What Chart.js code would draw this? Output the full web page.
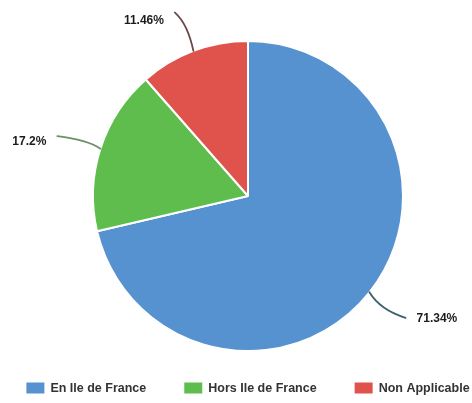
<!DOCTYPE html>
<html><head><meta charset="utf-8">
<script src="https://cdn.jsdelivr.net/npm/chart.js@4.4.0/dist/chart.umd.min.js"></script>
<style>html,body{margin:0;padding:0;background:#fff;} canvas{display:block}</style>
</head><body>
<canvas id="c" width="472" height="403"></canvas>
<script>
const categories = ['En Ile de France', 'Hors Ile de France', 'Non Applicable'];
const shares = [71.34, 17.2, 11.46];
const valueLabels = ['71.34%', '17.2%', '11.46%'];
const sliceColors = ['#5592cf', '#5fbd4d', '#e0534d'];
const leaderColors = ['#3d5f6e', '#6f8f6a', '#6a4646'];

const FONT = '"Liberation Sans", Arial, sans-serif';

const leaderPlugin = {
  id: 'leaders',
  afterDatasetsDraw(chart) {
    const ctx = chart.ctx;
    const meta = chart.getDatasetMeta(0);
    meta.data.forEach((arc, i) => {
      const p = arc.getProps(['x','y','startAngle','endAngle','outerRadius'], true);
      const a = (p.startAngle + p.endAngle) / 2;
      const c = Math.cos(a), s = Math.sin(a);
      const ex = p.x + c * p.outerRadius, ey = p.y + s * p.outerRadius;
      const L = 41;
      const side = c < 0 ? -1 : 1;
      const tx = ex + c * L + side * 4, ty = ey + s * L;
      const cx = ex + (tx - ex) * 0.3, cy = ey + (ty - ey) * 0.7;
      ctx.save();
      ctx.strokeStyle = leaderColors[i];
      ctx.lineWidth = 1.8;
      ctx.lineCap = 'round';
      ctx.beginPath();
      ctx.moveTo(ex, ey);
      ctx.quadraticCurveTo(cx, cy, tx, ty);
      ctx.stroke();
      ctx.fillStyle = '#1c1c1c';
      ctx.font = 'bold 12px ' + FONT;
      ctx.textBaseline = 'middle';
      ctx.textAlign = side < 0 ? 'right' : 'left';
      ctx.fillText(valueLabels[i], tx + side * 11, ty + 4 - 4.5 * s);
      ctx.restore();
    });
  }
};

const legendPlugin = {
  id: 'bottomLegend',
  afterDraw(chart) {
    const ctx = chart.ctx;
    const ds = chart.data.datasets[0];
    ctx.save();
    ctx.font = 'bold 12.5px ' + FONT;
    const box = 18, boxH = 11, gapBT = 6, gap = 38;
    const widths = chart.data.labels.map(t => box + gapBT + ctx.measureText(t).width);
    const total = widths.reduce((a, b) => a + b, 0) + gap * (widths.length - 1);
    const mid = (chart.chartArea.left + chart.chartArea.right) / 2;
    let x = mid - total / 2;
    const yc = 388;
    chart.data.labels.forEach((t, i) => {
      ctx.fillStyle = ds.backgroundColor[i];
      ctx.fillRect(x, yc - boxH / 2, box, boxH);
      ctx.fillStyle = '#333';
      ctx.textBaseline = 'middle';
      ctx.textAlign = 'left';
      ctx.fillText(t, x + box + gapBT, yc + 0.5);
      x += widths[i] + gap;
    });
    ctx.restore();
  }
};

new Chart(document.getElementById('c'), {
  type: 'pie',
  data: {
    labels: categories,
    datasets: [{
      data: shares,
      backgroundColor: sliceColors,
      borderColor: '#ffffff',
      borderWidth: 2
    }]
  },
  options: {
    responsive: false,
    animation: false,
    layout: { padding: { left: 92, right: 68, top: 40, bottom: 51 } },
    plugins: {
      legend: { display: false },
      tooltip: { enabled: false }
    }
  },
  plugins: [leaderPlugin, legendPlugin]
});
</script>
</body></html>
